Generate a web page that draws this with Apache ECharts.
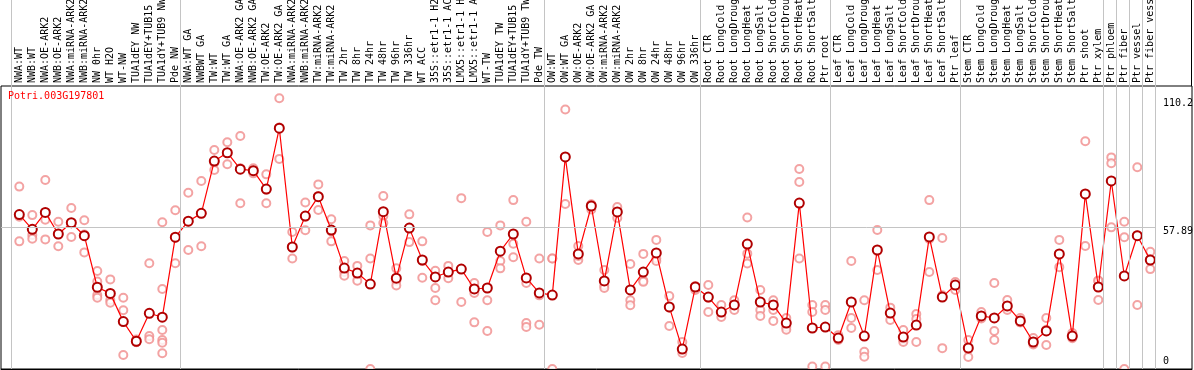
<!DOCTYPE html>
<html>
<head>
<meta charset="utf-8">
<script src="https://cdn.jsdelivr.net/npm/echarts@6/dist/echarts.min.js"></script>
<style>
html,body{margin:0;padding:0;background:#fff;}
#chart{width:1194px;height:370px;}
</style>
</head>
<body>
<div id="chart"></div>
<script>
const title = 'Potri.003G197801';
const categories = [
 'NWA:WT','NWB:WT','NWA:OE-ARK2','NWB:OE-ARK2','NWA:miRNA-ARK2','NWB:miRNA-ARK2','NW 0hr','WT H2O','WT-NW','TUA1dEY NW','TUA1dEY+TUB15 NW','TUA1dY+TUB9 NW','Pde NW',
 'NWA:WT GA','NWBWT GA','TW:WT','TW:WT GA','NWA:OE-ARK2 GA','NWB:OE-ARK2 GA','TW:OE-ARK2','TW:OE-ARK2 GA','NWA:miRNA-ARK2 GA','NWB:miRNA-ARK2 GA','TW:miRNA-ARK2','TW:miRNA-ARK2 GA',
 'TW 2hr','TW 8hr','TW 24hr','TW 48hr','TW 96hr','TW 336hr','WT ACC','35S::etr1-1 H2O','35S::etr1-1 ACC','LMX5::etr1-1 H2O','LMX5::etr1-1 ACC','WT-TW','TUA1dEY TW','TUA1dEY+TUB15 TW','TUA1dY+TUB9 TW','Pde TW',
 'OW:WT','OW:WT GA','OW:OE-ARK2','OW:OE-ARK2 GA','OW:miRNA-ARK2','OW:miRNA-ARK2 GA','OW 2hr','OW 8hr','OW 24hr','OW 48hr','OW 96hr','OW 336hr',
 'Root CTR','Root LongCold','Root LongDrought','Root LongHeat','Root LongSalt','Root ShortCold','Root ShortDrought','Root ShortHeat','Root ShortSalt','Ptr root',
 'Leaf CTR','Leaf LongCold','Leaf LongDrought','Leaf LongHeat','Leaf LongSalt','Leaf ShortCold','Leaf ShortDrought','Leaf ShortHeat','Leaf ShortSalt','Ptr leaf',
 'Stem CTR','Stem LongCold','Stem LongDrought','Stem LongHeat','Stem LongSalt','Stem ShortCold','Stem ShortDrought','Stem ShortHeat','Stem ShortSalt','Ptr shoot','Ptr xylem',
 'Ptr phloem','Ptr fiber','Ptr vessel','Ptr fiber vessel'
];
// index of first category of each group (group separators)
const groupStarts = [0, 13, 41, 53, 63, 73, 84, 85, 86, 87, 88];
const means = [
 62.9,56.9,63.8,55.0,59.6,54.3,33.3,30.8,19.3,11.3,22.7,21.1,53.7,
 60.2,63.4,84.7,88.1,81.4,80.8,73.3,98.1,49.7,62.3,70.2,56.6,
 41.1,39.1,34.6,64.1,37.0,57.4,44.4,37.5,39.5,40.7,32.6,33.0,48.0,55.0,37.1,31.0,
 30.1,86.4,46.9,66.4,35.9,64.0,32.2,39.5,47.3,25.3,8.1,33.4,
 29.3,23.2,26.1,50.9,27.3,26.1,18.7,67.6,16.7,17.1,
 12.6,27.3,13.4,48.5,22.8,13.0,17.9,53.8,29.3,34.2,
 8.6,21.6,20.8,25.7,19.6,11.0,15.5,46.9,13.4,71.3,33.4,
 76.6,37.9,54.3,44.4
];
const replicates = [
 [74.3,62.0,52.0],[62.7,54.6,53.1],[77.0,60.8,52.8],[60.0,55.0,50.0],[65.6,59.4,53.8],[60.6,54.8,47.5],[39.9,35.6,30.1,29.0],[36.5,28.1,27.0],[29.0,23.9,5.7],[12.0,11.0,10.9],[43.1,13.4,12.1],[59.8,32.6,15.9,11.8,10.7,6.4],[64.7,53.4,43.1],
 [71.8,60.0,48.5],[76.6,63.4,50.0],[89.2,84.0,81.1],[92.4,88.0,83.4],[94.9,81.8,67.5],[81.8,80.8,79.7],[79.3,73.0,67.5],[110.3,98.4,85.6],[55.8,49.5,45.0],[67.8,62.0,56.5],[75.2,70.5,64.8],[61.0,56.0,52.0],
 [44.0,39.5,38.0],[42.0,38.5,36.0],[58.5,45.0,0],[70.5,62.3,59.5],[41.0,36.0,34.0],[63.0,57.5,51.7],[52.0,44.0,37.2],[40.0,33.0,28.0],[42.0,37.0,39.5],[69.6,40.7,27.3],[35.0,31.0,19.0],[55.8,28.0,15.5],[58.5,44.0,41.0],[68.8,51.0,45.5],[60.0,35.0,18.7,17.1],[45.0,30.0,18.0],
 [45.0,45.0,0],[105.7,67.2,86.4],[50.1,44.4,46.0],[67.0,65.0,67.0],[40.3,34.0,33.0],[64.0,61.5,66.0],[42.8,28.0,26.0],[46.9,36.0,35.5],[52.6,45.0,44.0],[29.7,25.0,17.5],[11.0,8.0,6.5],[33.8,33.4,32.2],
 [34.2,29.0,23.2],[26.1,23.0,21.2],[28.0,26.0,24.0],[61.7,47.0,43.0],[32.2,24.0,21.6],[28.0,24.0,19.6],[20.8,17.1,16.0],[81.5,76.2,45.0],[26.1,23.2,1.0],[26.1,24.0,1.0],
 [13.8,11.8,12.2],[20.8,16.7,44.0],[28.0,7.0,5.0],[56.6,48.0,40.3],[23.0,20.0,25.0],[15.9,12.0,11.0],[22.4,20.4,11.0],[68.8,53.0,39.5],[53.4,30.0,8.5],[32.2,35.0,35.4],
 [11.8,8.0,4.9],[23.2,21.0,20.6],[35.0,15.5,11.8],[28.1,25.0,24.0],[20.8,19.0,19.0],[12.6,10.5,10.0],[9.8,16.0,20.8],[52.6,46.5,41.5],[14.7,13.0,12.5],[92.8,71.0,50.1],[28.1,36.0,36.0],
 [86.2,83.8,57.7],[60.0,53.7,0],[82.2,54.5,26.1],[47.8,44.6,40.7]
];
const yTickValues = [0, 57.89, 110.2];
const yTickLabels = ['0', '57.89', '110.2'];
const refLine = 57.89;

const FONT = 'DejaVu Sans Mono';
const xMin = -1.408, xMax = 90.208;
const catIdx = categories.map((c, i) => i);
const sepValues = groupStarts.map(k => k - 0.615);
const meanData = means.map((v, i) => [i, v]);
const repData = [];
replicates.forEach((arr, i) => arr.forEach(v => repData.push([i, v])));
const yLabelFmt = v => { const j = yTickValues.findIndex(t => Math.abs(t - v) < 1e-6); return j >= 0 ? yTickLabels[j] : ''; };
const GRAY = '#c4c4c4';

const chart = echarts.init(document.getElementById('chart'), null, {renderer: 'canvas'});
chart.setOption({
  animation: false,
  backgroundColor: '#fff',
  title: {
    text: title, left: 8, top: 91, padding: 0,
    textStyle: {color: '#ff0000', fontFamily: FONT, fontSize: 10, fontWeight: 'normal'}
  },
  grid: [
    {left: 1, right: 2, top: 86, bottom: 1, show: true, borderColor: '#000', borderWidth: 1, backgroundColor: 'transparent',
      containLabel: false, outerBoundsMode: 'none'},
    {left: 1, right: 2, top: 0, height: 86, show: false, containLabel: false, outerBoundsMode: 'none'}
  ],
  xAxis: [
    {
      gridIndex: 0, type: 'value', position: 'top', min: xMin, max: xMax,
      axisLine: {show: true, lineStyle: {color: '#000', width: 1}},
      axisTick: {show: false, customValues: sepValues},
      splitLine: {show: true, lineStyle: {color: GRAY, width: 1}},
      axisLabel: {
        customValues: catIdx, formatter: v => categories[Math.round(v)] || '',
        rotate: 90, margin: 3, fontFamily: FONT, fontSize: 10, color: '#000', hideOverlap: false
      },
      z: 5
    },
    {
      gridIndex: 1, type: 'value', position: 'bottom', min: xMin, max: xMax,
      axisLine: {show: false}, axisLabel: {show: false},
      axisTick: {show: false, customValues: sepValues},
      splitLine: {show: true, lineStyle: {color: GRAY, width: 1}},
      z: 0
    }
  ],
  yAxis: [
    {
      gridIndex: 0, type: 'value', min: 0, max: 115.29, position: 'right',
      axisLine: {show: false}, axisTick: {show: false}, splitLine: {show: false},
      axisLabel: {inside: true, customValues: [yTickValues[1], yTickValues[2]], formatter: yLabelFmt,
        align: 'left', verticalAlign: 'top', margin: 29, fontFamily: FONT, fontSize: 10, color: '#000'}
    },
    {
      gridIndex: 0, type: 'value', min: 0, max: 115.29, position: 'right',
      axisLine: {show: false}, axisTick: {show: false}, splitLine: {show: false},
      axisLabel: {inside: true, customValues: [yTickValues[0]], formatter: yLabelFmt,
        align: 'left', verticalAlign: 'bottom', margin: 29, padding: [0,0,3,0], fontFamily: FONT, fontSize: 10, color: '#000'}
    },
    {
      gridIndex: 1, type: 'value', min: 0, max: 1, show: false
    }
  ],
  graphic: [
    {type: 'line', shape: {x1: 1191.5, y1: 0, x2: 1191.5, y2: 86}, style: {stroke: '#000', lineWidth: 1}, silent: true}
  ],
  series: [
    {
      type: 'scatter', xAxisIndex: 0, yAxisIndex: 0, data: repData, symbol: 'emptyCircle', symbolSize: 8,
      itemStyle: {color: '#f08c8c', borderColor: '#f08c8c', borderWidth: 1.5}, z: 2, silent: true,
      markLine: {
        silent: true, symbol: 'none', label: {show: false},
        lineStyle: {color: GRAY, width: 1, type: 'solid'},
        data: [[{coord: [xMin, refLine]}, {coord: [groupStarts[groupStarts.length - 1] - 0.615, refLine]}]]
      }
    },
    {
      type: 'line', xAxisIndex: 0, yAxisIndex: 0, data: meanData, symbol: 'emptyCircle', symbolSize: 9,
      lineStyle: {color: '#ff0000', width: 1.2},
      itemStyle: {color: '#b00000', borderColor: '#b00000', borderWidth: 1.8}, z: 3, silent: true
    },
    {
      type: 'scatter', xAxisIndex: 1, yAxisIndex: 2, data: [], silent: true
    }
  ]
});
</script>
</body>
</html>
